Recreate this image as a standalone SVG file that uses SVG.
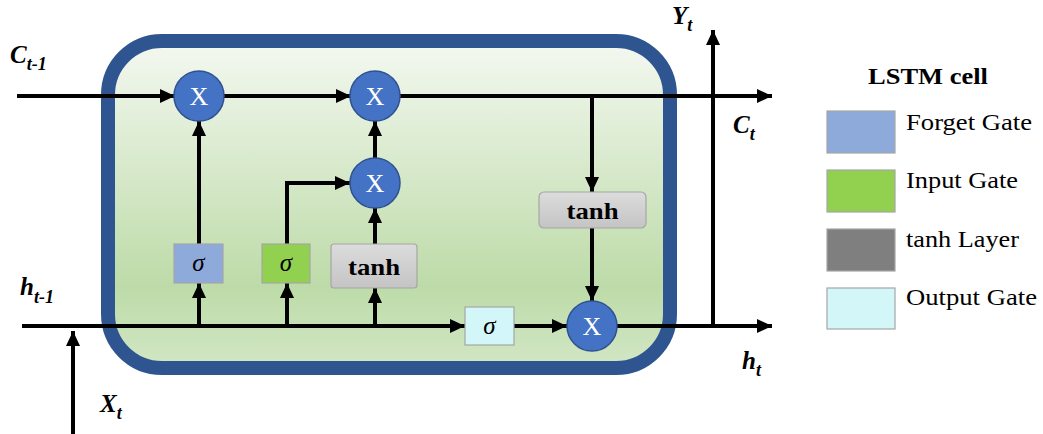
<svg xmlns="http://www.w3.org/2000/svg" width="1043" height="434" viewBox="0 0 1043 434">
<style>
.ln{stroke:#000;stroke-width:4;fill:none}
.ar{marker-end:url(#ah)}
.mul{fill:#4472c4;stroke:#2f528f;stroke-width:1.5}
.mt{font-family:"Liberation Serif",serif;font-size:26px;fill:#fff;text-anchor:middle}
.gate{stroke:#a6a6a6;stroke-width:1.2}
.sig{font-family:"Liberation Serif",serif;font-style:italic;font-size:25px;fill:#000;text-anchor:middle}
.th{font-family:"Liberation Serif",serif;font-weight:bold;font-size:24px;fill:#000;text-anchor:middle}
.lab{font-family:"Liberation Serif",serif;font-weight:bold;font-style:italic;font-size:25px;fill:#000}
.sub{font-size:18px}
.leg{font-family:"Liberation Serif",serif;font-size:23px;fill:#000}
</style>
<defs>
<marker id="ah" markerUnits="userSpaceOnUse" markerWidth="16" markerHeight="16" refX="15" refY="8" orient="auto">
<path d="M0,1 L15,8 L0,15 z" fill="#000"/>
</marker>
<linearGradient id="bg" x1="0" y1="0" x2="0" y2="1">
<stop offset="0" stop-color="#f4f8f1"/>
<stop offset="0.75" stop-color="#bddba8"/>
<stop offset="1" stop-color="#d2e7c5"/>
</linearGradient>
<linearGradient id="tg" x1="0" y1="0" x2="0" y2="1">
<stop offset="0" stop-color="#dcdcdc"/>
<stop offset="1" stop-color="#c4c4c4"/>
</linearGradient>
</defs>
<g id="cell">
<rect x="108" y="41" width="562" height="327" rx="54" ry="54" fill="url(#bg)" stroke="#2f5591" stroke-width="14"/>
</g>
<g id="connectors">
<line class="ln ar" x1="17" y1="96" x2="175" y2="96"/>
<line class="ln ar" x1="224" y1="96" x2="351" y2="96"/>
<line class="ln ar" x1="400" y1="96" x2="772" y2="96"/>
<line class="ln ar" x1="592" y1="96" x2="592" y2="192"/>
<line class="ln ar" x1="592" y1="228" x2="592" y2="301"/>
<line class="ln" x1="22" y1="326" x2="465" y2="326"/>
<line class="ln ar" x1="440" y1="326" x2="465" y2="326"/>
<line class="ln ar" x1="514" y1="326" x2="567" y2="326"/>
<line class="ln ar" x1="617" y1="326" x2="772" y2="326"/>
<line class="ln ar" x1="713" y1="328" x2="713" y2="30"/>
<line class="ln ar" x1="73" y1="434" x2="73" y2="331"/>
<line class="ln ar" x1="199" y1="326" x2="199" y2="283"/>
<line class="ln ar" x1="199" y1="244" x2="199" y2="121"/>
<line class="ln ar" x1="287" y1="326" x2="287" y2="283"/>
<polyline class="ln ar" points="287,244 287,183 350,183"/>
<line class="ln ar" x1="375" y1="326" x2="375" y2="288"/>
<line class="ln ar" x1="375" y1="244" x2="375" y2="208"/>
<line class="ln ar" x1="375" y1="158" x2="375" y2="121"/>
</g>
<g id="mul-forget"><circle class="mul" cx="199" cy="96" r="25"/><text class="mt" x="199" y="105">X</text></g>
<g id="mul-cell"><circle class="mul" cx="375" cy="96" r="25"/><text class="mt" x="375" y="105">X</text></g>
<g id="mul-input"><circle class="mul" cx="375" cy="183" r="25"/><text class="mt" x="375" y="192">X</text></g>
<g id="mul-output"><circle class="mul" cx="592" cy="326" r="25"/><text class="mt" x="592" y="335">X</text></g>
<g id="forget-gate"><rect class="gate" x="174" y="244" width="49" height="39" fill="#8eaadb"/><text class="sig" x="198.5" y="271">σ</text></g>
<g id="input-gate"><rect class="gate" x="262" y="244" width="48" height="39" fill="#92d050"/><text class="sig" x="286" y="271">σ</text></g>
<g id="tanh-input"><rect class="gate" x="331" y="244" width="86" height="44" rx="3" fill="url(#tg)"/><text class="th" x="374" y="275" textLength="52" lengthAdjust="spacingAndGlyphs">tanh</text></g>
<g id="output-gate"><rect class="gate" x="465" y="307" width="49" height="38" fill="#d3f7f8"/><text class="sig" x="489.5" y="334">σ</text></g>
<g id="tanh-output"><rect class="gate" x="539" y="192" width="107" height="36" rx="5" fill="url(#tg)"/><text class="th" x="592.5" y="219" textLength="52" lengthAdjust="spacingAndGlyphs">tanh</text></g>
<g id="labels">
<text class="lab" x="10" y="63">C<tspan class="sub" dy="7">t-1</tspan></text>
<text class="lab" x="20" y="295">h<tspan class="sub" dy="8">t-1</tspan></text>
<text class="lab" x="733" y="133">C<tspan class="sub" dy="7">t</tspan></text>
<text class="lab" x="742" y="369">h<tspan class="sub" dy="7">t</tspan></text>
<text class="lab" x="672" y="24">Y<tspan class="sub" dy="7">t</tspan></text>
<text class="lab" x="100" y="412">X<tspan class="sub" dy="7">t</tspan></text>
</g>
<g id="legend">
<text class="leg" x="868" y="84" font-weight="bold" textLength="120" lengthAdjust="spacingAndGlyphs">LSTM cell</text>
<rect class="gate" x="827" y="111" width="68" height="42" fill="#8eaadb"/>
<text class="leg" x="906" y="130" textLength="126" lengthAdjust="spacingAndGlyphs">Forget Gate</text>
<rect class="gate" x="827" y="170" width="68" height="42" fill="#92d050"/>
<text class="leg" x="906" y="188" textLength="112" lengthAdjust="spacingAndGlyphs">Input Gate</text>
<rect class="gate" x="827" y="229" width="68" height="42" fill="#7f7f7f"/>
<text class="leg" x="906" y="247" textLength="113" lengthAdjust="spacingAndGlyphs">tanh Layer</text>
<rect class="gate" x="827" y="288" width="68" height="41" fill="#d3f7f8"/>
<text class="leg" x="906" y="305" textLength="131" lengthAdjust="spacingAndGlyphs">Output Gate</text>
</g>
</svg>
